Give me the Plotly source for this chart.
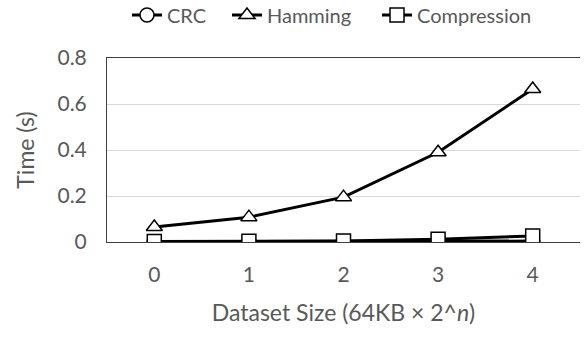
import plotly.graph_objects as go

categories = ["0", "1", "2", "3", "4"]
crc = [0.001, 0.001, 0.002, 0.003, 0.004]
hamming = [0.065, 0.108, 0.195, 0.39, 0.665]
compression = [0.002, 0.003, 0.004, 0.012, 0.026]
y_ticks = [0, 0.2, 0.4, 0.6, 0.8]
y_tick_labels = ["0", "0.2", "0.4", "0.6", "0.8"]

FONT = "Lato, 'Open Sans', sans-serif"
GREY = "#595959"
W, H = 586, 339

series = [("CRC", crc, "circle", "legend", 127),
          ("Hamming", hamming, "triangle-up", "legend2", 227),
          ("Compression", compression, "square", "legend3", 377)]

fig = go.Figure()
legends = {}
for name, vals, sym, leg, lx in series:
    fig.add_trace(go.Scatter(
        x=categories, y=vals, name=name, mode="lines+markers", legend=leg,
        showlegend=True,
        line=dict(color="black", width=3),
        marker=dict(symbol=sym, size=14, color="white",
                    line=dict(color="black", width=1.5)),
    ))
    legends[leg] = dict(orientation="h", xref="container", x=lx / W, xanchor="left",
                        yref="container", y=1 - 15 / H, yanchor="middle",
                        font=dict(size=20, color=GREY), bgcolor="rgba(0,0,0,0)",
                        itemwidth=30, visible=True)

fig.update_layout(
    width=W, height=H, showlegend=True,
    margin=dict(l=107, r=6, t=58, b=97),
    paper_bgcolor="white", plot_bgcolor="white",
    font=dict(family=FONT, color=GREY, size=20),
    xaxis=dict(type="category", range=[-0.5, 4.5], showgrid=False,
               showline=True, linecolor="#404040", linewidth=1, mirror=True,
               ticks="", tickfont=dict(size=21, color=GREY), ticklabelstandoff=14,
               title=dict(text="Dataset Size (64KB × 2^<i>n</i>)",
                          font=dict(size=23, color=GREY), standoff=19)),
    yaxis=dict(range=[0, 0.8], tickvals=y_ticks, ticktext=y_tick_labels,
               showgrid=True, gridcolor="#d9d9d9", gridwidth=1, zeroline=False,
               showline=True, linecolor="#404040", linewidth=1,
               ticks="", tickfont=dict(size=21, color=GREY), ticklabelstandoff=15,
               title=dict(text="Time (s)", font=dict(size=23, color=GREY), standoff=16)),
    **legends,
)
fig.write_html("out.html", config={"displayModeBar": False},
               post_script="document.body.style.margin='0';")
